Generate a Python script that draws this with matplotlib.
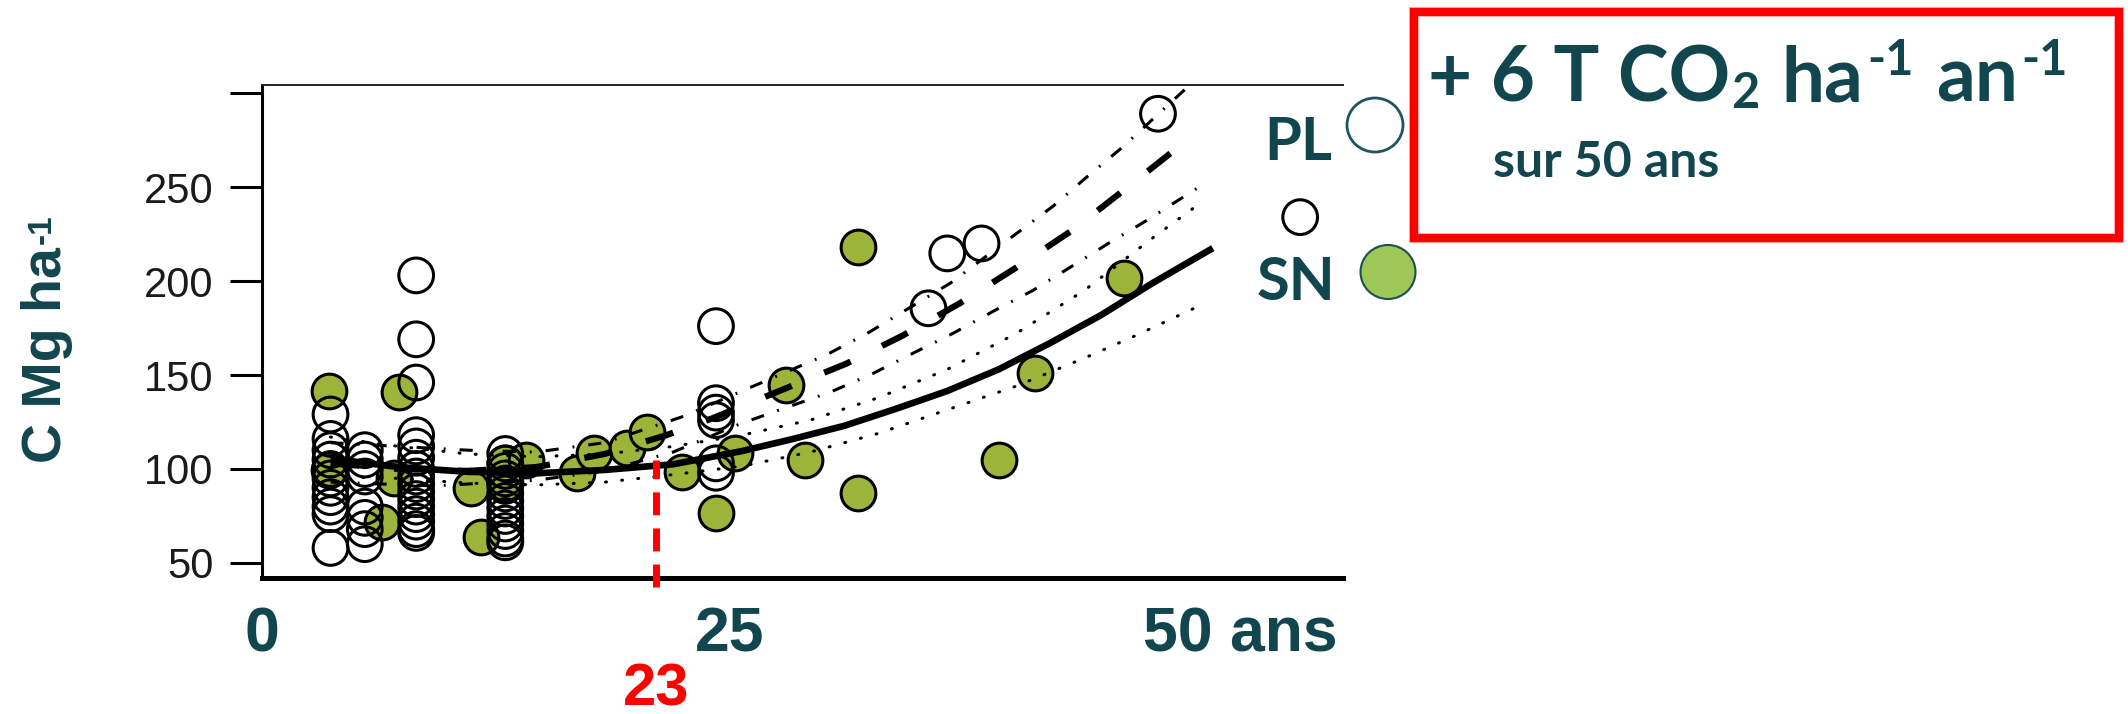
import matplotlib
matplotlib.use("Agg")
import matplotlib.pyplot as plt
from matplotlib.patches import Rectangle, Ellipse
from matplotlib.transforms import ScaledTranslation, blended_transform_factory

TEAL = '#11464f'
OLIVE = '#9db43a'

# plantations (PL): open circles, age (ans) / carbone (Mg/ha)
pl_age = [4] * 11 + [6] * 8 + [9] * 16 + [14.2] * 13 + [26.5] * 6 + [38.9, 40.0, 42.0, 52.3, 60.6]
pl_c = [129, 116, 110, 105, 100, 95, 90, 85, 80, 76, 58,
        110, 105, 100, 96, 80, 74, 68, 60,
        203, 169, 146, 118, 112, 106, 100, 96, 92, 88, 84, 80, 76, 72, 68, 66,
        108, 103, 99, 95, 91, 87, 83, 79, 75, 71, 67, 63, 61,
        176, 135, 130, 126, 103, 98,
        185.5, 214.7, 220, 289, 234]

# successions naturelles (SN): filled circles
sn_age = [3.9, 3.9, 7.0, 8.0, 7.7, 12.8, 12.2, 14.2, 15.4, 14.2, 18.4, 19.4, 21.3, 22.5,
          24.5, 26.5, 27.6, 30.6, 31.7, 34.8, 34.8, 43.0, 45.1, 50.3]
sn_c = [141.6, 99.5, 72, 141, 95, 64, 89.7, 103, 104.8, 92.5, 97.7, 108.3, 111, 119.8,
        98.6, 76.4, 108.3, 144.7, 104.8, 218.2, 87, 104.8, 150.9, 201.4]

# fitted curves and their bands
sn_fit_age = [4, 8, 12, 16, 20, 24, 28, 31, 34, 37, 40, 43, 46, 49, 52, 55.5]
sn_fit = [105.5, 101, 98.5, 97.7, 99.5, 102.5, 109.5, 116, 123, 132, 141.5, 153, 167, 182, 199, 217.5]
sn_hi_age = [4, 8, 12, 16, 20, 24, 28, 32, 36, 40, 44, 48, 52, 55]
sn_hi = [117, 112, 108, 106.5, 108, 112, 118, 126, 138, 153, 172, 195, 223, 243]
sn_lo_age = [4, 8, 12, 16, 20, 24, 28, 32, 36, 40, 44, 48, 51, 55]
sn_lo = [96, 95, 92.5, 91.5, 93, 97, 101.5, 109, 119, 131.5, 144, 159, 171, 188]

pl_fit_age = [4, 8, 12, 16, 20, 23.6, 26.3, 30.6, 34.1, 37.4, 40.7, 44, 47.3, 50.4, 54]
pl_fit = [103, 100, 99, 101, 108, 118, 127, 143, 156, 171, 188, 207, 227, 249, 275]
pl_hi_age = [4, 8, 12, 16, 20, 24.6, 27.9, 33, 35.3, 40.2, 44, 46.2, 48.1, 50.2, 54, 55]
pl_hi = [114, 112, 110, 109, 114, 128, 141, 161, 172, 199, 225, 240, 255, 271, 303, 311]
pl_lo_age = [4, 10, 16, 20, 24, 27.9, 33.2, 35.7, 38, 40.3, 42.7, 45, 47.3, 49.4, 51.6, 55.2]
pl_lo = [93, 91, 94, 99, 109, 124, 141, 151, 161.6, 172, 184, 195, 208, 220, 232, 253]

mark_age = 23
mark_c = 105

yticks = [50, 100, 150, 200, 250, 300]
ylabels = ['50', '100', '150', '200', '250', '']
xticks = [0, 25, 50]
xlabels = ['0', '25', '50 ans']

fig = plt.figure(figsize=(21.28, 7.14), dpi=100)
fig.patch.set_facecolor('white')

ax = fig.add_axes([262 / 2128, 136 / 714, 1081 / 2128, 493 / 714])
ax.patch.set_visible(False)
ax.set_xlim(0, 63.1)
ax.set_ylim(42, 304.3)

# overlay in pixel units for the legend and the callout box
ov = fig.add_axes([0, 0, 1, 1], zorder=5)
ov.set_xlim(0, 2128)
ov.set_ylim(714, 0)
ov.axis('off')
ov.patch.set_visible(False)

ax.scatter(sn_age, sn_c, s=625, c=OLIVE, edgecolors='black', linewidths=2.2, zorder=3)
ax.scatter(pl_age, pl_c, s=625, facecolors='none', edgecolors='black', linewidths=2.2, zorder=4)

ax.plot(sn_hi_age, sn_hi, color='black', lw=2.2, dashes=(0.3, 5), dash_capstyle='round', zorder=5)
ax.plot(sn_lo_age, sn_lo, color='black', lw=2.2, dashes=(0.3, 5), dash_capstyle='round', zorder=5)
ax.plot(pl_hi_age, pl_hi, color='black', lw=2.2, dashes=(4.3, 4.6, 0.6, 4.6), zorder=5)
ax.plot(pl_lo_age, pl_lo, color='black', lw=2.2, dashes=(4.3, 4.6, 0.6, 4.6), zorder=5)
ax.plot(pl_fit_age, pl_fit, color='black', lw=4.5, dashes=(4.6, 5.6), zorder=6)
ax.plot(sn_fit_age, sn_fit, color='black', lw=4.8, solid_capstyle='butt', zorder=6)

# repère à 23 ans
ax.plot([mark_age, mark_age], [37, mark_c], color='red', lw=5, dashes=(3.3, 1.9),
        clip_on=False, zorder=7)
bt = blended_transform_factory(ax.transData, ax.transAxes)
ax.text(mark_age, -0.258, str(mark_age), transform=bt, ha='center', va='baseline',
        color='red', fontsize=43, fontweight='bold', family='Liberation Sans')

ax.spines['right'].set_visible(False)
ax.spines['top'].set_linewidth(1.4)
ax.spines['top'].set_color('#222222')
ax.spines['left'].set_linewidth(2.2)
ax.spines['bottom'].set_linewidth(3.6)

ax.set_yticks(yticks)
ax.set_yticklabels(ylabels, family='Liberation Sans', fontsize=30, color='#1a1a1a')
ax.tick_params(axis='y', direction='out', length=23, width=2.2, pad=12)
ax.set_xticks([])

# x labels, shifted the way they sit under the axis
shifts = [0, 5, 24]
aligns = ['center', 'left', 'left']
for pos, lab, dx, ha in zip(xticks, xlabels, shifts, aligns):
    tr = bt + ScaledTranslation(dx / 100, 0, fig.dpi_scale_trans)
    ax.text(pos, -0.150, lab, transform=tr, ha=ha, va='baseline', color=TEAL,
            fontsize=45, fontweight='bold', family='Liberation Sans')

renderer = fig.canvas.get_renderer()

# y label: "C Mg ha" with a raised "-1", read bottom to top
yl = ov.text(47, 463, 'C Mg ha', rotation=90, ha='center', va='bottom',
             family='Liberation Sans', fontweight='bold', fontsize=40, color=TEAL)
h = yl.get_window_extent(renderer).height
ov.text(42, 463 - h - 3, '-1', rotation=90, ha='center', va='bottom',
        family='Liberation Sans', fontweight='bold', fontsize=24, color=TEAL)

# legend
ov.text(1332, 160, 'PL', ha='right', va='baseline', family='Lato', fontweight='bold',
        fontsize=43, color=TEAL)
ov.add_patch(Ellipse((1375, 125), 56, 54, facecolor='white', edgecolor='#1d5560', lw=2))
ov.text(1335, 300, 'SN', ha='right', va='baseline', family='Lato', fontweight='bold',
        fontsize=43, color=TEAL)
ov.add_patch(Ellipse((1388, 272), 55, 54, facecolor='#9ec75a', edgecolor='#1f4e4f', lw=1.5))

# callout box
ov.add_patch(Rectangle((1413.5, 11.5), 705.5, 226.5, facecolor='white', edgecolor='#ff0000',
                       lw=5.8, zorder=2))
for d, a in [(-4, 0.35), (4, 0.3)]:
    ov.add_patch(Rectangle((1413.5 + d, 11.5 + d), 705.5 - 2 * d, 226.5 - 2 * d, fill=False,
                           edgecolor='#ff0000', lw=1.5, alpha=a, zorder=2))

# "+ 6 T CO2 ha-1 an-1": pieces (text, size, raise in px, gap before in px)
pieces = [('+ 6 T CO', 55, 0, 0), ('2', 35, -6, 1), ('ha', 55, 0, 22),
          ('-1', 35, 27, 4), ('an', 55, 0, 22), ('-1', 35, 27, 4)]
x = 1428
for s, size, dy, gap in pieces:
    x += gap
    t = ov.text(x, 102 - dy, s, ha='left', va='baseline', family='Lato', fontweight='bold',
                fontsize=size, color=TEAL, zorder=3)
    x += t.get_window_extent(renderer).width

ov.text(1493, 177, 'sur 50 ans', ha='left', va='baseline', family='Lato', fontweight='bold',
        fontsize=36, color=TEAL, zorder=3)

fig.savefig('out.png', dpi=100)
